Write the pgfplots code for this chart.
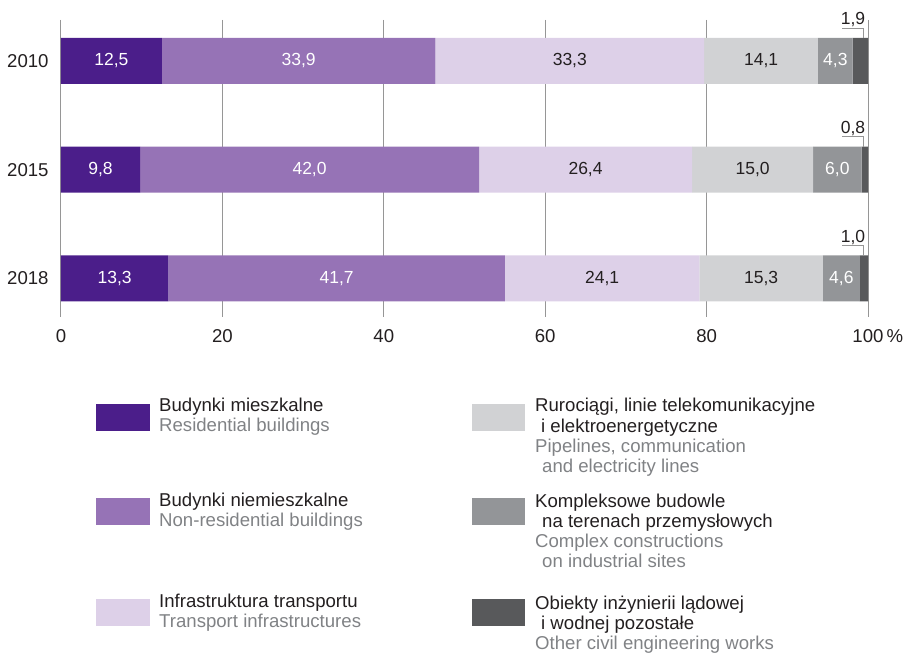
\documentclass[border=0pt]{standalone}
\usepackage{pgfplots}
\usepackage{pgfplotstable}
\pgfplotsset{compat=1.18}
\usepackage{fontspec}
\setmainfont{Liberation Sans}

\definecolor{res}{RGB}{75,30,138}
\definecolor{nonres}{RGB}{150,115,182}
\definecolor{transp}{RGB}{221,208,232}
\definecolor{pipe}{RGB}{209,210,212}
\definecolor{compl}{RGB}{147,149,152}
\definecolor{other}{RGB}{88,89,91}
\definecolor{txt}{RGB}{35,31,32}
\definecolor{eng}{RGB}{128,130,133}
\definecolor{gridc}{RGB}{150,150,150}

% shares (%) per year; row index 0,1,2 = 2010, 2015, 2018
\pgfplotstableread{
y res nonres transp pipe compl other
0 12.5 33.9 33.3 14.1 4.3 1.9
1 9.8  42.0 26.4 15.0 6.0 0.8
2 13.3 41.7 24.1 15.3 4.6 1.0
}\shares

% segment centres for the value labels
\pgfplotstableread{
x y lab
6.25  0 12,5
29.45 0 33,9
95.95 0 4,3
4.9   1 9,8
30.8  1 42,0
96.2  1 6,0
6.65  2 13,3
34.15 2 41,7
96.7  2 4,6
}\whitelabs
\pgfplotstableread{
x y lab
63.05 0 33,3
86.75 0 14,1
65.0  1 26,4
85.7  1 15,0
67.05 2 24,1
86.75 2 15,3
}\blacklabs
\pgfplotstableread{
x y lab
98.14 -0.331 1,9
98.14 0.669  0,8
98.14 1.669  1,0
}\smalllabs

\pgfplotsset{
  frame/.style={
    scale only axis, width=807pt, height=297pt,
    at={(61pt,336pt)}, anchor=south west,
    xmin=0, xmax=100, ymin=-0.377, ymax=2.354,
    y dir=reverse,
  },
}
\tikzset{vallab/.style={font=\fontsize{17.5}{20}\selectfont}}

\begin{document}
\fontsize{18.6}{20.3}\selectfont
\begin{tikzpicture}
\path[use as bounding box] (0pt,0pt) rectangle (906pt,653pt);

\begin{axis}[
    frame,
    xbar stacked, bar width=46pt,
    axis line style={draw=none},
    major tick length=0pt,
    xtick={0,20,40,60,80,100},
    xticklabels={0,20,40,60,80,{100\rlap{\,\%}}},
    ytick={0,1,2},
    yticklabels={2010,2015,2018},
    xmajorgrids, grid style={gridc, line width=1pt},
    xticklabel style={text=txt, yshift=-6pt},
    yticklabel style={text=txt, xshift=-6pt},
]
\addplot[fill=res, draw=none] table[x=res, y=y] {\shares};
\addplot[fill=nonres, draw=none] table[x=nonres, y=y] {\shares};
\addplot[fill=transp, draw=none] table[x=transp, y=y] {\shares};
\addplot[fill=pipe, draw=none] table[x=pipe, y=y] {\shares};
\addplot[fill=compl, draw=none] table[x=compl, y=y] {\shares};
\addplot[fill=other, draw=none] table[x=other, y=y] {\shares};
\end{axis}

\begin{axis}[frame, hide axis, clip=false]
\addplot[draw=none, mark=none, nodes near coords, point meta=explicit symbolic,
  every node near coord/.style={anchor=center, text=white, vallab}]
  table[x=x, y=y, meta=lab] {\whitelabs};
\addplot[draw=none, mark=none, nodes near coords, point meta=explicit symbolic,
  every node near coord/.style={anchor=center, text=txt, vallab}]
  table[x=x, y=y, meta=lab] {\blacklabs};
\addplot[draw=none, mark=none, nodes near coords, point meta=explicit symbolic,
  every node near coord/.style={anchor=base, inner sep=0pt, text=txt, vallab}]
  table[x=x, y=y, meta=lab] {\smalllabs};
% leader lines for the small segments
\addplot[gridc, line width=1pt] coordinates {(96.8,-0.3034) (99.5,-0.3034) (99.5,-0.2115)};
\addplot[gridc, line width=1pt] coordinates {(96.8,0.6966) (99.5,0.6966) (99.5,0.7885)};
\addplot[gridc, line width=1pt] coordinates {(96.8,1.6966) (99.5,1.6966) (99.5,1.7885)};
\end{axis}

% legend
\fill[res]    (96pt,222pt) rectangle (150pt,249pt);
\fill[nonres] (96pt,128pt) rectangle (150pt,155pt);
\fill[transp] (96pt,27pt)  rectangle (150pt,54pt);
\fill[pipe]   (472pt,222pt) rectangle (525pt,249pt);
\fill[compl]  (472pt,128pt) rectangle (525pt,155pt);
\fill[other]  (472pt,27pt)  rectangle (525pt,54pt);

\begin{scope}[every node/.style={anchor=base west, inner sep=0pt}]
\node[text=txt] at (159pt,241pt) {Budynki mieszkalne};
\node[text=eng] at (159pt,221pt) {Residential buildings};
\node[text=txt] at (159pt,146pt) {Budynki niemieszkalne};
\node[text=eng] at (159pt,126pt) {Non-residential buildings};
\node[text=txt] at (159pt,45pt) {Infrastruktura transportu};
\node[text=eng] at (159pt,25pt) {Transport infrastructures};

\node[text=txt] at (535pt,241pt) {Rurociągi, linie telekomunikacyjne};
\node[text=txt] at (541pt,220pt) {i elektroenergetyczne};
\node[text=eng] at (535pt,200pt) {Pipelines, communication};
\node[text=eng] at (542pt,180pt) {and electricity lines};
\node[text=txt] at (535pt,145pt) {Kompleksowe budowle};
\node[text=txt] at (542pt,125pt) {na terenach przemysłowych};
\node[text=eng] at (535pt,105pt) {Complex constructions};
\node[text=eng] at (542pt,85pt) {on industrial sites};
\node[text=txt] at (535pt,43pt) {Obiekty inżynierii lądowej};
\node[text=txt] at (541pt,23pt) {i wodnej pozostałe};
\node[text=eng] at (535pt,3pt) {Other civil engineering works};
\end{scope}
\end{tikzpicture}
\end{document}
